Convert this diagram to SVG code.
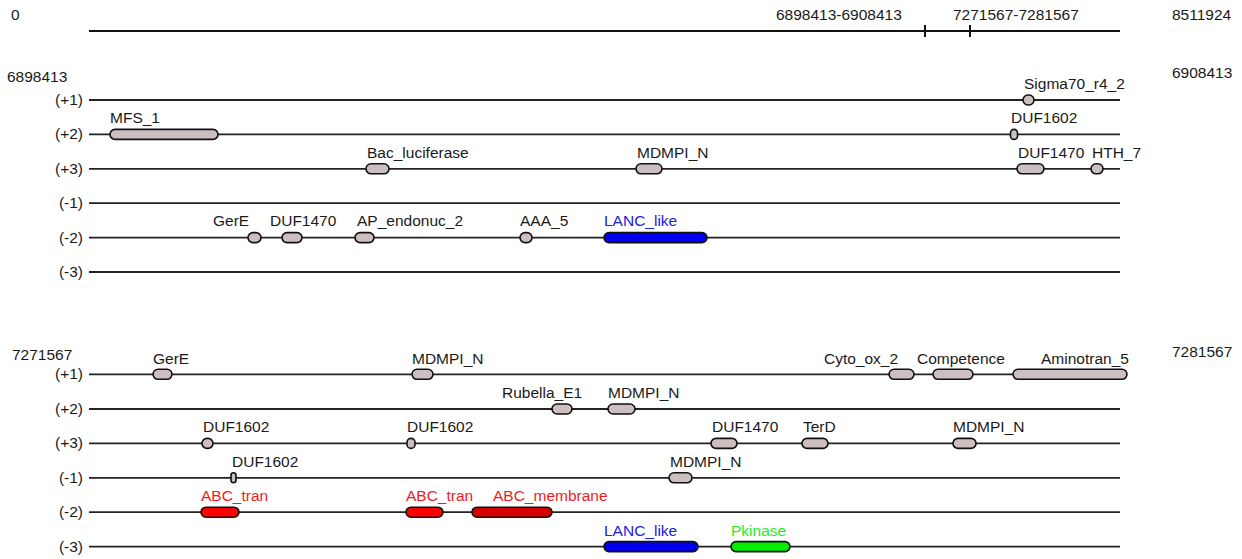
<svg xmlns="http://www.w3.org/2000/svg" width="1242" height="559" viewBox="0 0 1242 559">
  <style>
    text { font-family: "Liberation Sans", Arial, sans-serif; font-size: 15.5px; fill: #1a1a1a; }
    .end { text-anchor: end; }
    .track { stroke: #222; stroke-width: 1.8; fill: none; }
    .axis { stroke: #111; stroke-width: 2; fill: none; }
    .dom { fill: #cdbfbf; stroke: #111; stroke-width: 1.6; }
    .red { fill: #ff0000; stroke: #111; stroke-width: 1.6; }
    .dred { fill: #d40000; stroke: #111; stroke-width: 1.6; }
    .blue { fill: #0000ee; stroke: #111; stroke-width: 1.6; }
    .green { fill: #00ee00; stroke: #111; stroke-width: 1.6; }
    .tred { fill: #ee1c1c; }
    .tblue { fill: #2020e0; }
    .tgreen { fill: #22ee22; }
  </style>

  <!-- genome overview axis -->
  <g id="overview">
    <text x="11" y="20">0</text>
    <text x="776" y="20">6898413-6908413</text>
    <text x="953" y="20">7271567-7281567</text>
    <text x="1172" y="20">8511924</text>
    <line class="axis" x1="89" y1="31" x2="1120" y2="31"/>
    <line class="axis" x1="925" y1="25" x2="925" y2="37"/>
    <line class="axis" x1="970" y1="25" x2="970" y2="37"/>
  </g>

  <!-- region labels and frame labels -->
  <g id="labels">
    <text x="7" y="82">6898413</text>
    <text x="1172" y="78">6908413</text>
    <text class="end" x="83" y="105">(+1)</text>
    <text class="end" x="83" y="139">(+2)</text>
    <text class="end" x="83" y="174">(+3)</text>
    <text class="end" x="83" y="208">(-1)</text>
    <text class="end" x="83" y="243">(-2)</text>
    <text class="end" x="83" y="277">(-3)</text>

    <text x="12" y="360">7271567</text>
    <text x="1172" y="357">7281567</text>
    <text class="end" x="83" y="379">(+1)</text>
    <text class="end" x="83" y="414">(+2)</text>
    <text class="end" x="83" y="448">(+3)</text>
    <text class="end" x="83" y="483">(-1)</text>
    <text class="end" x="83" y="517">(-2)</text>
    <text class="end" x="83" y="552">(-3)</text>
  </g>

  <!-- reading-frame tracks -->
  <g id="connectors">
    <line class="track" x1="89" y1="100" x2="1120" y2="100"/>
    <line class="track" x1="89" y1="134.4" x2="1120" y2="134.4"/>
    <line class="track" x1="89" y1="168.8" x2="1120" y2="168.8"/>
    <line class="track" x1="89" y1="203.2" x2="1120" y2="203.2"/>
    <line class="track" x1="89" y1="237.6" x2="1120" y2="237.6"/>
    <line class="track" x1="89" y1="272" x2="1120" y2="272"/>

    <line class="track" x1="89" y1="374.3" x2="1120" y2="374.3"/>
    <line class="track" x1="89" y1="409" x2="1120" y2="409"/>
    <line class="track" x1="89" y1="443.4" x2="1120" y2="443.4"/>
    <line class="track" x1="89" y1="477.8" x2="1120" y2="477.8"/>
    <line class="track" x1="89" y1="512.2" x2="1120" y2="512.2"/>
    <line class="track" x1="89" y1="546.6" x2="1120" y2="546.6"/>
  </g>

  <!-- region 6898413-6908413 -->
  <g id="r1-sigma70">
    <rect class="dom" x="1023" y="95" width="11" height="10" rx="5"/>
    <text x="1024" y="89">Sigma70_r4_2</text>
  </g>
  <g id="r1-mfs1">
    <rect class="dom" x="110" y="129.4" width="108" height="10" rx="5"/>
    <text x="110" y="123">MFS_1</text>
  </g>
  <g id="r1-duf1602">
    <rect class="dom" x="1010.5" y="129.4" width="7" height="10" rx="3.5"/>
    <text x="1011" y="123">DUF1602</text>
  </g>
  <g id="r1-bac-luciferase">
    <rect class="dom" x="366" y="163.8" width="23" height="10" rx="5"/>
    <text x="367" y="158">Bac_luciferase</text>
  </g>
  <g id="r1-mdmpi-n">
    <rect class="dom" x="636" y="163.8" width="26" height="10" rx="5"/>
    <text x="637" y="158">MDMPI_N</text>
  </g>
  <g id="r1-duf1470-a">
    <rect class="dom" x="1017" y="163.8" width="27" height="10" rx="5"/>
    <text x="1018" y="158">DUF1470</text>
  </g>
  <g id="r1-hth7">
    <rect class="dom" x="1091" y="163.8" width="12" height="10" rx="5"/>
    <text x="1092" y="158">HTH_7</text>
  </g>
  <g id="r1-gere">
    <rect class="dom" x="248" y="232.6" width="13" height="10" rx="5"/>
    <text x="213" y="226">GerE</text>
  </g>
  <g id="r1-duf1470-b">
    <rect class="dom" x="282" y="232.6" width="20" height="10" rx="5"/>
    <text x="270" y="226">DUF1470</text>
  </g>
  <g id="r1-ap-endonuc2">
    <rect class="dom" x="355" y="232.6" width="19" height="10" rx="5"/>
    <text x="357" y="226">AP_endonuc_2</text>
  </g>
  <g id="r1-aaa5">
    <rect class="dom" x="520" y="232.6" width="12" height="10" rx="5"/>
    <text x="520" y="226">AAA_5</text>
  </g>
  <g id="r1-lanc-like">
    <rect class="blue" x="604" y="232.6" width="103" height="10" rx="5"/>
    <text class="tblue" x="604" y="226">LANC_like</text>
  </g>

  <!-- region 7271567-7281567 -->
  <g id="r2-gere">
    <rect class="dom" x="153" y="369.3" width="19" height="10" rx="5"/>
    <text x="153" y="364">GerE</text>
  </g>
  <g id="r2-mdmpi-n-a">
    <rect class="dom" x="412" y="369.3" width="21" height="10" rx="5"/>
    <text x="412" y="364">MDMPI_N</text>
  </g>
  <g id="r2-cyto-ox2">
    <rect class="dom" x="889" y="369.3" width="25" height="10" rx="5"/>
    <text x="824" y="364">Cyto_ox_2</text>
  </g>
  <g id="r2-competence">
    <rect class="dom" x="933" y="369.3" width="40" height="10" rx="5"/>
    <text x="917" y="364">Competence</text>
  </g>
  <g id="r2-aminotran5">
    <rect class="dom" x="1013" y="369.3" width="114" height="10" rx="5"/>
    <text x="1041" y="364">Aminotran_5</text>
  </g>
  <g id="r2-rubella-e1">
    <rect class="dom" x="552" y="404" width="20" height="10" rx="5"/>
    <text x="502" y="398">Rubella_E1</text>
  </g>
  <g id="r2-mdmpi-n-b">
    <rect class="dom" x="608" y="404" width="27" height="10" rx="5"/>
    <text x="608" y="398">MDMPI_N</text>
  </g>
  <g id="r2-duf1602-a">
    <rect class="dom" x="202" y="438.4" width="11" height="10" rx="5"/>
    <text x="203" y="432">DUF1602</text>
  </g>
  <g id="r2-duf1602-b">
    <rect class="dom" x="407" y="438.4" width="8" height="10" rx="4"/>
    <text x="407" y="432">DUF1602</text>
  </g>
  <g id="r2-duf1470">
    <rect class="dom" x="711" y="438.4" width="26" height="10" rx="5"/>
    <text x="712" y="432">DUF1470</text>
  </g>
  <g id="r2-terd">
    <rect class="dom" x="802" y="438.4" width="26" height="10" rx="5"/>
    <text x="803" y="432">TerD</text>
  </g>
  <g id="r2-mdmpi-n-c">
    <rect class="dom" x="953" y="438.4" width="23" height="10" rx="5"/>
    <text x="953" y="432">MDMPI_N</text>
  </g>
  <g id="r2-duf1602-c">
    <rect class="dom" x="231" y="472.8" width="5" height="10" rx="2.5"/>
    <text x="232" y="467">DUF1602</text>
  </g>
  <g id="r2-mdmpi-n-d">
    <rect class="dom" x="669" y="472.8" width="23" height="10" rx="5"/>
    <text x="670" y="467">MDMPI_N</text>
  </g>
  <g id="r2-abc-tran-a">
    <rect class="red" x="201" y="507.2" width="38" height="10" rx="5"/>
    <text class="tred" x="201" y="501">ABC_tran</text>
  </g>
  <g id="r2-abc-tran-b">
    <rect class="red" x="406" y="507.2" width="37" height="10" rx="5"/>
    <text class="tred" x="406" y="501">ABC_tran</text>
  </g>
  <g id="r2-abc-membrane">
    <rect class="dred" x="472" y="507.2" width="80" height="10" rx="5"/>
    <text class="tred" x="493" y="501">ABC_membrane</text>
  </g>
  <g id="r2-lanc-like">
    <rect class="blue" x="604" y="541.6" width="94" height="10" rx="5"/>
    <text class="tblue" x="604" y="536">LANC_like</text>
  </g>
  <g id="r2-pkinase">
    <rect class="green" x="731" y="541.6" width="59" height="10" rx="5"/>
    <text class="tgreen" x="731" y="536">Pkinase</text>
  </g>
</svg>
